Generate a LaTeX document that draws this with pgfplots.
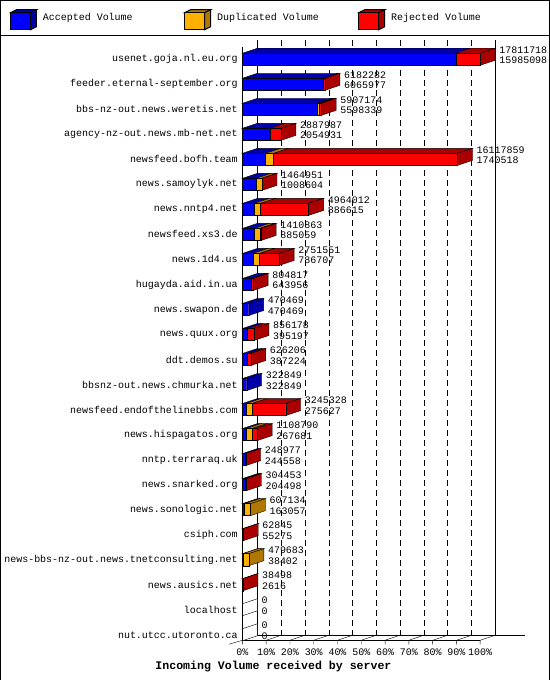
\documentclass[border=0pt]{standalone}
\usepackage{fontspec}
\setmainfont{Liberation Mono}
\usepackage{pgfplots}
\usepackage{pgfplotstable}
\pgfplotsset{compat=1.18}

\definecolor{accfront}{HTML}{0000FF}
\definecolor{acctop}{HTML}{0000AA}
\definecolor{dupfront}{HTML}{FFB000}
\definecolor{duptop}{HTML}{B07800}
\definecolor{rejfront}{HTML}{FF0000}
\definecolor{rejtop}{HTML}{AA0000}

% offered volume per peer: accepted, duplicated, rejected (bytes)
\pgfplotstableread{
host total acc dup rej
usenet.goja.nl.eu.org 17811718 15985098 0 1826620
feeder.eternal-september.org 6182282 6065977 0 116305
bbs-nz-out.news.weretis.net 5907174 5598339 150000 158835
agency-nz-out.news.mb-net.net 2887987 2054931 0 833056
newsfeed.bofh.team 16117859 1740518 600000 13777341
news.samoylyk.net 1464951 1008604 440000 16347
news.nntp4.net 4964012 886615 480000 3597397
newsfeed.xs3.de 1410863 885059 420000 105804
news.1d4.us 2751551 786707 500000 1464844
hugayda.aid.in.ua 804817 643956 0 160861
news.swapon.de 470469 470469 0 0
news.quux.org 856178 395197 0 460981
ddt.demos.su 626206 387224 0 238982
bbsnz-out.news.chmurka.net 322849 322849 0 0
newsfeed.endofthelinebbs.com 3245328 275627 450000 2519701
news.hispagatos.org 1108790 267681 460000 381109
nntp.terraraq.uk 248977 244558 0 4419
news.snarked.org 304453 204498 0 99955
news.sonologic.net 607134 163057 444077 0
csiph.com 62845 55275 0 7570
news-bbs-nz-out.news.tnetconsulting.net 479683 38402 441281 0
news.ausics.net 38498 2616 0 35882
localhost 0 0 0 0
nut.utcc.utoronto.ca 0 0 0 0
}\hosts

\def\maxvol{17811718}
\def\depth{6.3}

\pgfplotsset{
  cube legend/.style 2 args={legend image code/.code={
    \draw[fill=#2, line width=1bp] (0bp,4.5bp) -- (6bp,7.5bp) -- (26bp,7.5bp) -- (20bp,4.5bp) -- cycle;
    \draw[fill=#2, line width=1bp] (20bp,-12.5bp) -- (26bp,-9.5bp) -- (26bp,7.5bp) -- (20bp,4.5bp) -- cycle;
    \draw[fill=#1, line width=1bp] (0bp,-12.5bp) rectangle (20bp,4.5bp);
  }},
}

% top and side faces of one 3D bar, and its two value labels
\newcommand\barfaces[1]{%
  \pgfplotstablegetelem{#1}{total}\of\hosts\let\vT\pgfplotsretval
  \pgfplotstablegetelem{#1}{acc}\of\hosts\let\vA\pgfplotsretval
  \pgfplotstablegetelem{#1}{dup}\of\hosts\let\vD\pgfplotsretval
  \pgfplotstablegetelem{#1}{rej}\of\hosts\let\vR\pgfplotsretval
  \begingroup
  \pgfkeys{/pgf/fpu=true,/pgf/fpu/output format=fixed}%
  \pgfmathparse{\vA/\maxvol*100}\xdef\pA{\pgfmathresult}%
  \pgfmathparse{(\vA+\vD)/\maxvol*100}\xdef\pB{\pgfmathresult}%
  \pgfmathparse{(\vA+\vD+\vR)/\maxvol*100}\xdef\pC{\pgfmathresult}%
  \pgfmathparse{\pA+\depth}\xdef\qA{\pgfmathresult}%
  \pgfmathparse{\pB+\depth}\xdef\qB{\pgfmathresult}%
  \pgfmathparse{\pC+\depth}\xdef\qC{\pgfmathresult}%
  \pgfmathparse{\pC+\depth+1.7}\xdef\xL{\pgfmathresult}%
  \pgfmathparse{#1-0.24}\xdef\yF{\pgfmathresult}%
  \pgfmathparse{#1+0.24}\xdef\yG{\pgfmathresult}%
  \pgfmathparse{#1-0.44}\xdef\yH{\pgfmathresult}%
  \pgfmathparse{#1+0.04}\xdef\yI{\pgfmathresult}%
  \pgfmathparse{#1-0.38}\xdef\yJ{\pgfmathresult}%
  \pgfmathparse{#1+0.05}\xdef\yK{\pgfmathresult}%
  \endgroup
  \ifdim\pA pt>0pt
    \addplot[forget plot, fill=acctop, draw=black] coordinates {(0,\yF) (\pA,\yF) (\qA,\yH) (\depth,\yH)} -- cycle;
  \fi
  \ifdim\pB pt>\pA pt
    \addplot[forget plot, fill=duptop, draw=black] coordinates {(\pA,\yF) (\pB,\yF) (\qB,\yH) (\qA,\yH)} -- cycle;
  \fi
  \ifdim\pC pt>\pB pt
    \addplot[forget plot, fill=rejtop, draw=black] coordinates {(\pB,\yF) (\pC,\yF) (\qC,\yH) (\qB,\yH)} -- cycle;
  \fi
  \def\sidecol{white}%
  \ifdim\pA pt>0pt \def\sidecol{acctop}\fi
  \ifdim\pB pt>\pA pt \def\sidecol{duptop}\fi
  \ifdim\pC pt>\pB pt \def\sidecol{rejtop}\fi
  \edef\sideplot{\noexpand\addplot[forget plot, fill=\sidecol, draw=black]
    coordinates {(\pC,\yF) (\qC,\yH) (\qC,\yI) (\pC,\yG)} -- cycle;
    \noexpand\node[anchor=west, inner sep=0pt] at (axis cs:\xL,\yJ) {\vT};
    \noexpand\node[anchor=west, inner sep=0pt] at (axis cs:\xL,\yK) {\vA};}%
  \sideplot
}

\begin{document}
\begin{tikzpicture}[font=\fontsize{10}{11}\selectfont, line width=1bp]
\begin{axis}[
  x=2.375bp, y=25bp, y dir=reverse,
  xmin=0, xmax=100, ymin=-0.78, ymax=23.22,
  clip=false,
  axis line style={draw=none},
  major tick length=0pt,
  /pgf/number format/assume math mode=true,
  ticklabel style={font=\fontsize{10}{11}\selectfont, inner sep=0pt},
  xtick={0,10,...,100},
  xticklabel={\pgfmathprintnumber{\tick}\%},
  xticklabel style={yshift=-8bp},
  ytick={0,...,23},
  yticklabels from table={\hosts}{host},
  yticklabel style={xshift=-4.5bp},
  xlabel={Incoming Volume received by server},
  xlabel style={font=\bfseries\fontsize{11.6}{12}\selectfont,
    at={(axis description cs:0.1305,-0.0433)}, anchor=center},
  legend columns=3,
  legend cell align=left,
  legend style={draw=none, fill=none, inner sep=0pt,
    at={(axis description cs:-0.979,1.0333)}, anchor=west,
    font=\fontsize{10}{11}\selectfont,
    /tikz/every odd column/.append style={column sep=4bp},
    /tikz/every even column/.append style={column sep=9bp}},
]
\addlegendimage{cube legend={accfront}{acctop}}
\addlegendentry{\makebox[130bp][l]{Accepted Volume}}
\addlegendimage{cube legend={dupfront}{duptop}}
\addlegendentry{\makebox[130bp][l]{Duplicated Volume}}
\addlegendimage{cube legend={rejfront}{rejtop}}
\addlegendentry{\makebox[130bp][l]{Rejected Volume}}

% outer frame and legend separator
\addplot[forget plot, draw=black] coordinates {(-101.9,-2.36) (129.26,-2.36) (129.26,24.8) (-101.9,24.8)} -- cycle;
\addplot[forget plot, draw=black] coordinates {(-101.9,-0.96) (129.26,-0.96)};

% back walls, floor and grid
\addplot[forget plot, draw=black] coordinates {(6.3,-0.78) (6.3,23.02) (118.9,23.02)};
\addplot[forget plot, draw=black] coordinates {(106.3,-0.78) (106.3,23.02)};
\addplot[forget plot, draw=black] coordinates {(0,-0.5) (0,23.22) (100,23.22)};
\addplot[forget plot, draw=black] coordinates {(-5.7,23.38) (0,23.22)};
\pgfplotsinvokeforeach{1,...,9}{
  \pgfmathsetmacro\gx{#1*10+6.3}
  \addplot[forget plot, draw=black, dash pattern=on 6bp off 4bp] coordinates {(\gx,-0.78) (\gx,23.02)};
}
\pgfplotsinvokeforeach{0,...,10}{
  \pgfmathsetmacro\fx{#1*10}
  \pgfmathsetmacro\bx{#1*10+6.3}
  \addplot[forget plot, draw=black] coordinates {(\fx,23.38) (\fx,23.22) (\bx,23.02)};
}

% 3D faces and labels
\pgfplotsinvokeforeach{0,...,23}{\barfaces{#1}}

% front faces
\addplot[forget plot, xbar, bar width=12bp, fill=rejfront, draw=black]
  table[x expr={(\thisrow{acc}+\thisrow{dup}+\thisrow{rej})/17811718*100}, y expr=\coordindex]{\hosts};
\addplot[forget plot, xbar, bar width=12bp, fill=dupfront, draw=black]
  table[x expr={(\thisrow{acc}+\thisrow{dup})/17811718*100}, y expr=\coordindex]{\hosts};
\addplot[forget plot, xbar, bar width=12bp, fill=accfront, draw=black]
  table[x expr={\thisrow{acc}/17811718*100}, y expr=\coordindex]{\hosts};
\end{axis}
\end{tikzpicture}
\end{document}
